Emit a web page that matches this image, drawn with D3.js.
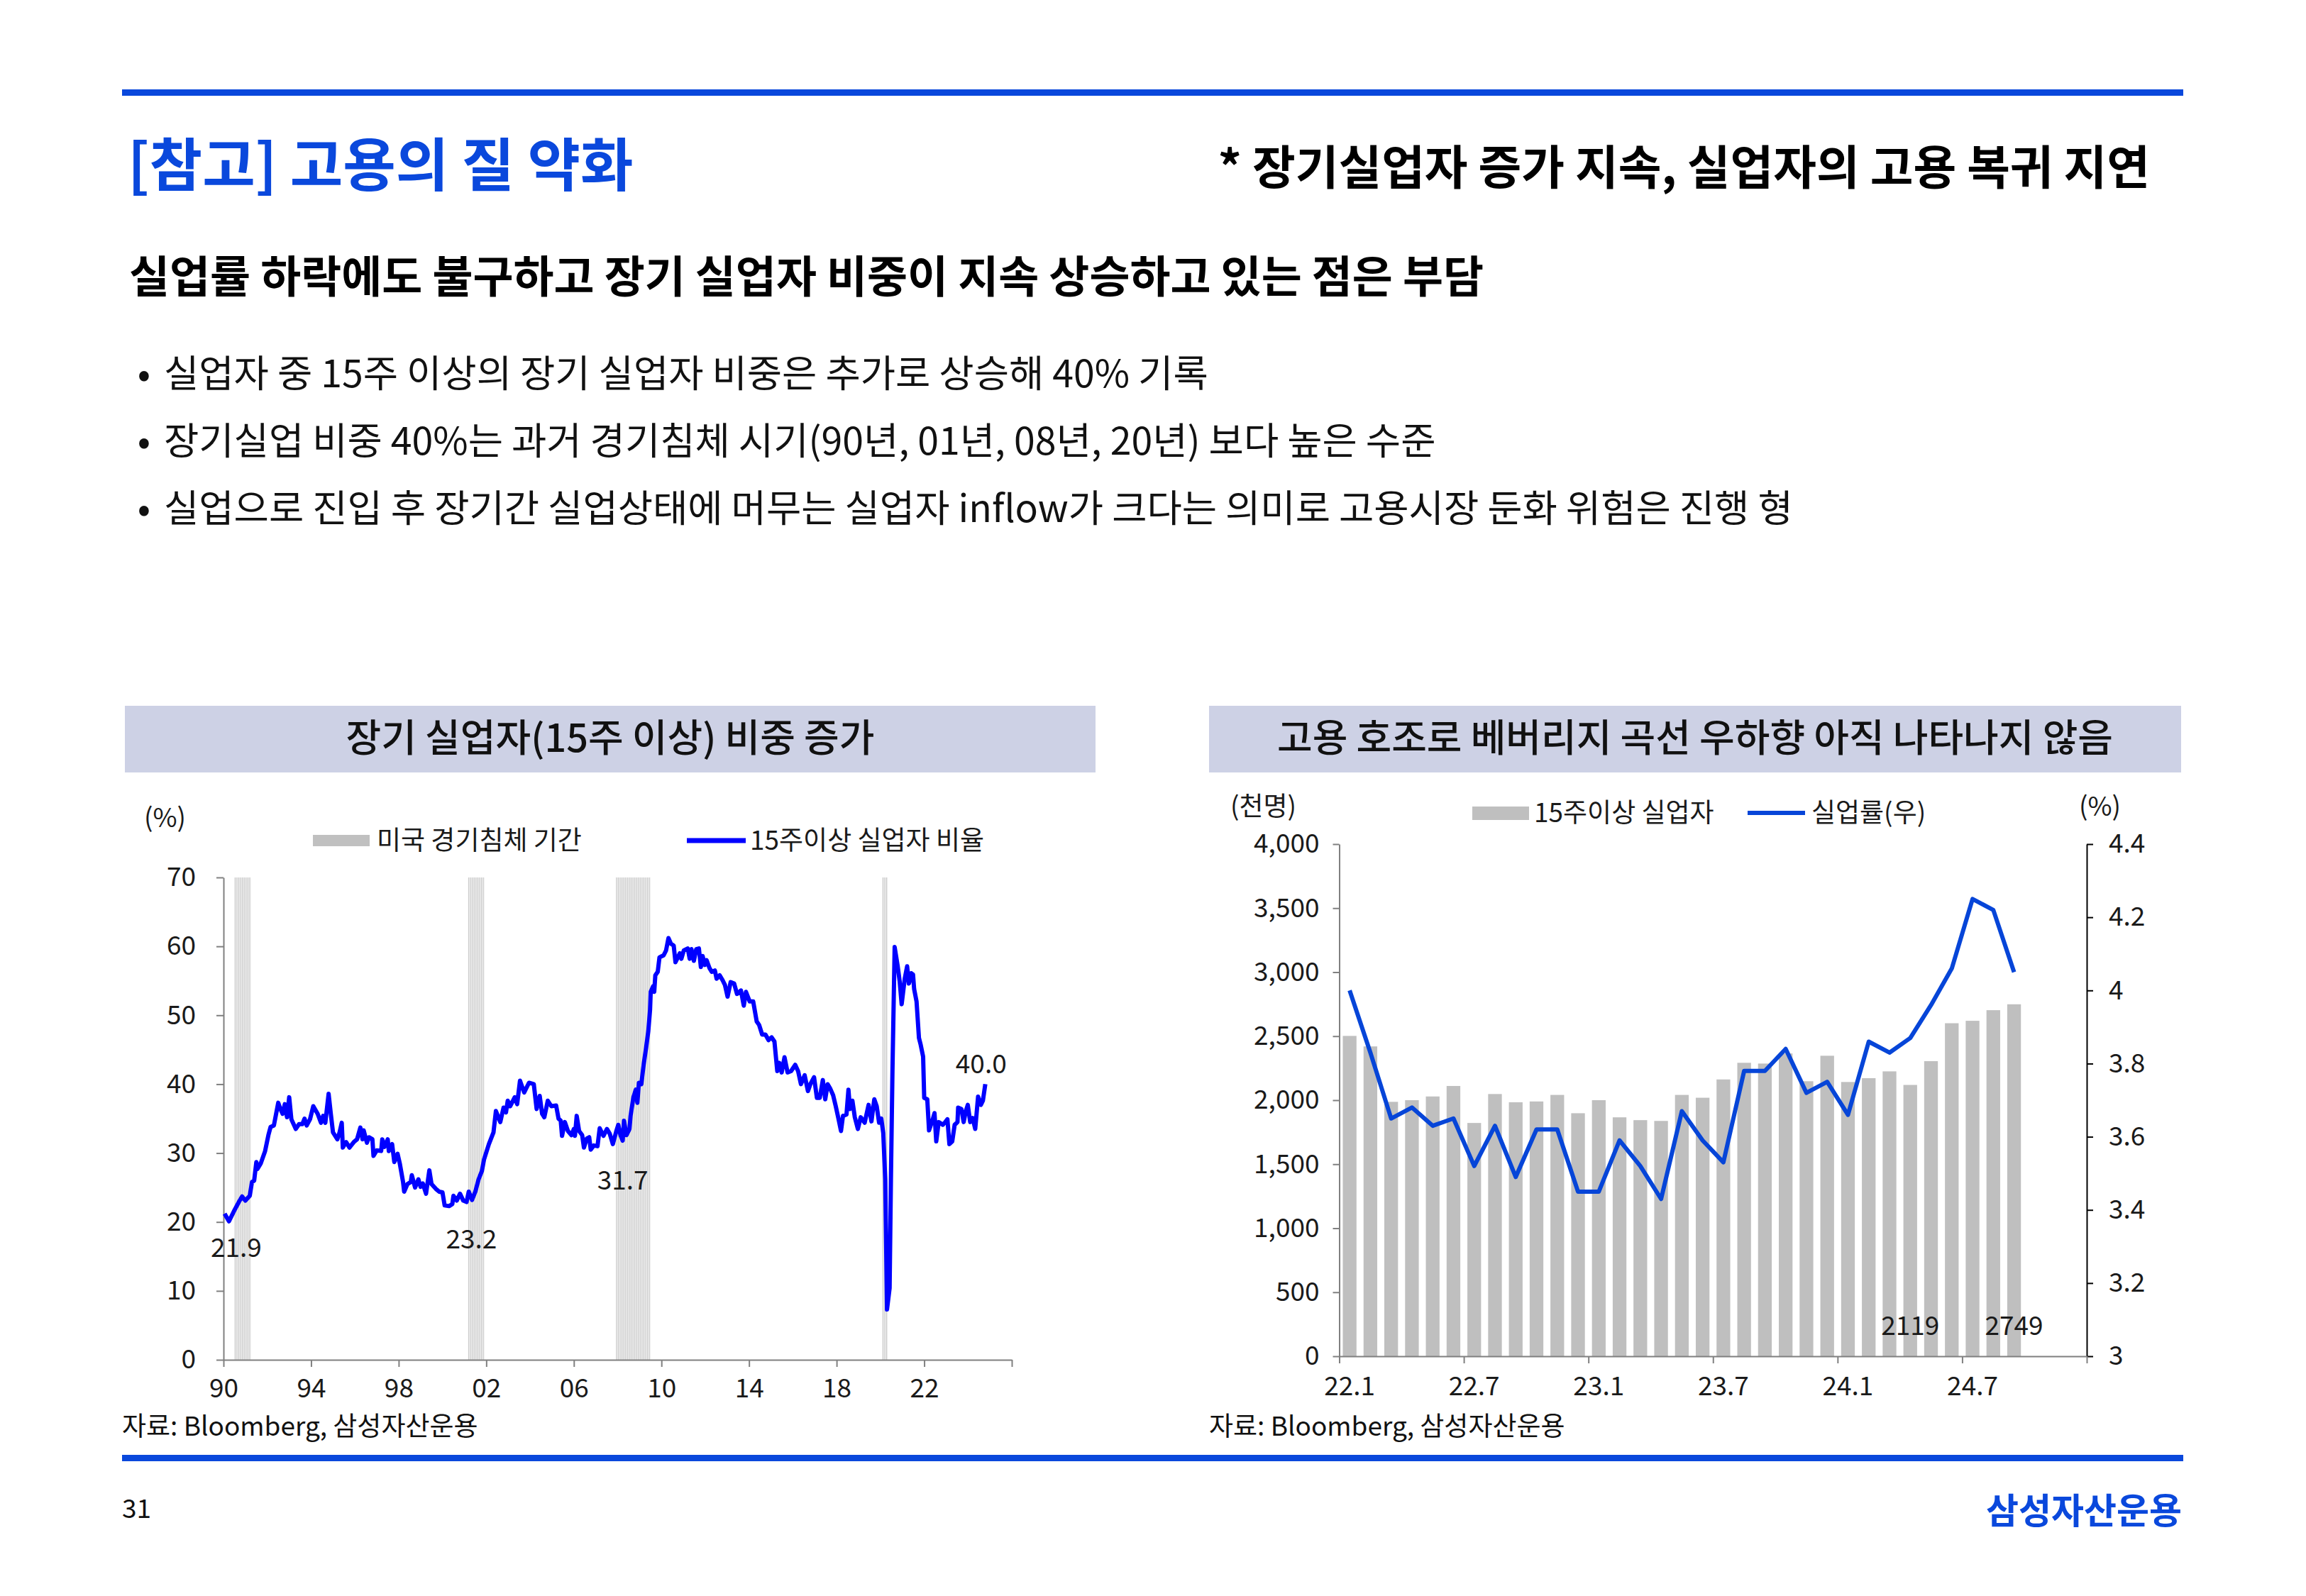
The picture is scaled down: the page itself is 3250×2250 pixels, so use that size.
<!DOCTYPE html>
<html>
<head>
<meta charset="utf-8">
<script src="https://cdn.jsdelivr.net/npm/d3@7"></script>
<style>
  body { margin: 0; background: #fff; }
  svg text { font-family: "Noto Sans CJK KR", "Noto Sans", sans-serif; }
</style>
</head>
<body>
<svg id="page" width="3250" height="2250"></svg>
<script>
// ---- chart 1: share of unemployed 15+ weeks (%)
const shareDates = [
  1990.05, 1990.25, 1990.5, 1990.7, 1990.85, 1991.0, 1991.2, 1991.3, 1991.4, 1991.5,
  1991.55, 1991.7, 1991.9, 1992.05, 1992.15, 1992.3, 1992.5, 1992.6, 1992.7, 1992.8,
  1992.9, 1993.0, 1993.1, 1993.3, 1993.45, 1993.6, 1993.7, 1993.8, 1993.95, 1994.1,
  1994.3, 1994.45, 1994.55, 1994.65, 1994.8, 1994.9, 1995.0, 1995.2, 1995.3, 1995.4,
  1995.45, 1995.6, 1995.75, 1995.95, 1996.1, 1996.25, 1996.35, 1996.4, 1996.55, 1996.65,
  1996.8, 1996.85, 1997.0, 1997.2, 1997.25, 1997.35, 1997.5, 1997.55, 1997.7, 1997.8,
  1997.95, 1998.05, 1998.2, 1998.25, 1998.4, 1998.55, 1998.6, 1998.75, 1998.9, 1999.0,
  1999.1, 1999.25, 1999.4, 1999.5, 1999.7, 1999.85, 2000.0, 2000.1, 2000.3, 2000.45,
  2000.5, 2000.65, 2000.8, 2000.95, 2001.1, 2001.2, 2001.35, 2001.5, 2001.65, 2001.8,
  2001.9, 2002.12, 2002.33, 2002.44, 2002.64, 2002.79, 2002.9, 2002.98, 2003.09, 2003.3,
  2003.41, 2003.54, 2003.73, 2003.95, 2004.17, 2004.3, 2004.44, 2004.55, 2004.65, 2004.81,
  2004.97, 2005.19, 2005.3, 2005.4, 2005.46, 2005.59, 2005.73, 2005.89, 2006.0, 2006.05,
  2006.13, 2006.24, 2006.38, 2006.46, 2006.59, 2006.7, 2006.77, 2006.91, 2007.08, 2007.18,
  2007.35, 2007.51, 2007.64, 2007.78, 2007.94, 2008.03, 2008.13, 2008.23, 2008.29, 2008.4,
  2008.54, 2008.59, 2008.72, 2008.83, 2008.9, 2008.97, 2009.08, 2009.19, 2009.3, 2009.4,
  2009.48, 2009.51, 2009.62, 2009.67, 2009.72, 2009.83, 2009.91, 2010.1, 2010.21, 2010.32,
  2010.43, 2010.56, 2010.64, 2010.75, 2010.84, 2010.91, 2011.02, 2011.2, 2011.29, 2011.37,
  2011.48, 2011.59, 2011.71, 2011.8, 2011.88, 2011.98, 2012.06, 2012.2, 2012.3, 2012.44,
  2012.52, 2012.66, 2012.79, 2012.9, 2013.02, 2013.16, 2013.32, 2013.45, 2013.63, 2013.76,
  2013.86, 2014.03, 2014.19, 2014.35, 2014.46, 2014.6, 2014.75, 2014.89, 2015.03, 2015.16,
  2015.29, 2015.38, 2015.49, 2015.62, 2015.76, 2015.92, 2016.11, 2016.24, 2016.37, 2016.54,
  2016.69, 2016.8, 2016.97, 2017.1, 2017.23, 2017.37, 2017.48, 2017.59, 2017.7, 2017.84,
  2017.96, 2018.07, 2018.2, 2018.29, 2018.45, 2018.54, 2018.61, 2018.72, 2018.83, 2018.97,
  2019.1, 2019.28, 2019.46, 2019.59, 2019.72, 2019.83, 2019.94, 2020.04, 2020.13, 2020.22,
  2020.3, 2020.42, 2020.48, 2020.55, 2020.65, 2020.79, 2020.88, 2020.97, 2021.11, 2021.22,
  2021.3, 2021.41, 2021.49, 2021.54, 2021.65, 2021.76, 2021.84, 2021.95, 2022.0, 2022.14,
  2022.22, 2022.39, 2022.47, 2022.55, 2022.66, 2022.76, 2022.85, 2022.96, 2023.06, 2023.15,
  2023.28, 2023.39, 2023.52, 2023.55, 2023.7, 2023.8, 2023.9, 2023.99, 2024.1, 2024.21,
  2024.33, 2024.46, 2024.59, 2024.68, 2024.79
];
const shareValues = [
  21.2, 20.1, 21.7, 22.9, 23.7, 23.1, 23.8, 25.8, 26.0, 28.7,
  27.7, 28.5, 30.3, 32.6, 33.8, 34.0, 37.3, 36.4, 35.7, 37.1,
  35.2, 38.1, 34.9, 33.5, 34.2, 34.2, 35.0, 34.0, 34.9, 36.8,
  35.7, 34.4, 35.4, 34.4, 38.6, 35.7, 33.0, 32.0, 33.0, 34.4,
  30.8, 31.6, 30.8, 31.6, 32.0, 33.7, 32.0, 33.3, 31.5, 32.3,
  32.0, 29.6, 30.4, 30.3, 32.0, 30.9, 32.0, 30.3, 31.3, 28.7,
  29.9, 28.5, 25.8, 24.4, 25.5, 25.8, 26.8, 25.0, 26.2, 25.1,
  25.6, 24.1, 27.5, 25.5, 24.8, 24.4, 24.3, 22.4, 22.3, 22.6,
  23.8, 23.1, 24.1, 23.1, 22.9, 24.4, 23.2, 24.4, 26.2, 27.4,
  29.1, 31.3, 33.0, 36.1, 34.5, 36.6, 35.9, 37.6, 36.8, 38.1,
  37.1, 40.5, 38.8, 40.2, 40.0, 36.4, 38.3, 35.7, 35.2, 37.6,
  36.8, 36.9, 35.0, 34.7, 32.5, 34.5, 33.2, 32.6, 33.5, 32.5,
  35.4, 33.2, 32.6, 30.8, 32.1, 32.3, 30.5, 31.1, 31.0, 33.6,
  32.5, 33.5, 32.8, 31.3, 33.2, 34.1, 32.6, 31.8, 34.7, 32.6,
  33.5, 35.4, 38.1, 39.2, 37.3, 40.2, 40.0, 42.9, 45.3, 47.7,
  50.8, 53.4, 54.2, 53.4, 55.8, 56.3, 58.4, 58.7, 59.4, 61.2,
  60.4, 60.1, 57.7, 58.4, 59.0, 58.2, 59.4, 59.7, 58.2, 59.6,
  57.9, 59.6, 59.7, 57.0, 58.6, 57.3, 58.0, 56.8, 56.3, 56.5,
  55.3, 55.8, 55.1, 54.4, 52.7, 54.8, 54.6, 53.1, 53.6, 51.4,
  53.4, 52.0, 52.0, 49.1, 48.6, 47.2, 47.2, 46.4, 46.8, 46.2,
  41.9, 43.1, 41.7, 43.9, 41.7, 41.9, 42.8, 41.9, 40.0, 41.3,
  39.0, 40.0, 41.0, 38.0, 38.0, 40.6, 37.8, 40.0, 39.4, 38.4,
  36.8, 35.2, 33.2, 35.4, 35.6, 39.2, 36.4, 37.6, 35.2, 33.5,
  35.2, 34.4, 37.0, 34.6, 37.8, 36.8, 34.4, 35.0, 32.9, 26.2,
  7.3, 10.4, 26.2, 41.9, 59.9, 57.1, 54.9, 51.6, 55.3, 57.1,
  54.6, 56.1, 55.9, 53.8, 52.0, 46.7, 45.7, 44.0, 38.0, 37.8,
  33.3, 34.9, 35.8, 31.7, 34.5, 34.3, 34.1, 34.5, 34.9, 31.3,
  31.7, 34.1, 34.5, 36.6, 36.4, 34.5, 36.1, 37.0, 34.5, 35.1,
  33.5, 38.2, 37.0, 37.6, 40.0
];
const recessionStart = ["1990-07", "2001-03", "2007-12", "2020-02"];
const recessionEnd = ["1991-03", "2001-11", "2009-06", "2020-04"];
const shareLabelDates = [1990.58, 2001.32, 2008.23, 2024.6];
const shareLabelValues = [21.9, 23.2, 31.7, 40.0];
const shareLabelAbove = [false, false, false, true];
const shareTicksY = [0, 10, 20, 30, 40, 50, 60, 70];
const shareTicksX = [1990, 1994, 1998, 2002, 2006, 2010, 2014, 2018, 2022, 2026];

// ---- chart 2: unemployed 15+ weeks (thousand) and unemployment rate (%)
const monthSlots = [
  "2022-01", "2022-02", "2022-03", "2022-04", "2022-05", "2022-06",
  "2022-07", "2022-08", "2022-09", "2022-10", "2022-11", "2022-12",
  "2023-01", "2023-02", "2023-03", "2023-04", "2023-05", "2023-06",
  "2023-07", "2023-08", "2023-09", "2023-10", "2023-11", "2023-12",
  "2024-01", "2024-02", "2024-03", "2024-04", "2024-05", "2024-06",
  "2024-07", "2024-08", "2024-09", "2024-10", "2024-11", "2024-12"
];
const longTermUnemployed = [
  2502, 2420, 1987, 2000, 2029, 2111, 1822, 2048, 1984, 1990, 2041,
  1898, 2000, 1866, 1844, 1838, 2041, 2019, 2162, 2292, 2286, 2365,
  2148, 2347, 2142, 2172, 2225, 2119, 2305, 2601, 2620, 2703, 2749
];
const unemploymentRate = [
  4.00, 3.83, 3.65, 3.68, 3.63, 3.65, 3.52, 3.63, 3.49, 3.62, 3.62,
  3.45, 3.45, 3.59, 3.52, 3.43, 3.67, 3.59, 3.53, 3.78, 3.78, 3.84,
  3.72, 3.75, 3.66, 3.86, 3.83, 3.87, 3.96, 4.06, 4.25, 4.22, 4.05
];
const barLabelMonths = ["2024-04", "2024-09"];
const barLabelTexts = ["2119", "2749"];
const slotTickMonths = ["2022-01", "2022-07", "2023-01", "2023-07", "2024-01", "2024-07"];
const leftTicks = [0, 500, 1000, 1500, 2000, 2500, 3000, 3500, 4000];
const rightTicks = [3, 3.2, 3.4, 3.6, 3.8, 4, 4.2, 4.4];

const blue = "#0a48dc";
const svg = d3.select("#page");

function addText(x, y, str, size, opts) {
  opts = opts || {};
  return svg.append("text")
    .attr("x", x).attr("y", y)
    .attr("font-size", size)
    .attr("font-weight", opts.weight || 400)
    .attr("fill", opts.fill || "#111")
    .attr("text-anchor", opts.anchor || "start")
    .text(str);
}

function styleAxis(g, color) {
  g.attr("font-size", 37);
  g.select("path.domain").attr("stroke", color).attr("stroke-width", 2);
  g.selectAll(".tick line").attr("stroke", color).attr("stroke-width", 2);
  g.selectAll(".tick text").attr("fill", "#1a1a1a");
}

// ---- page frame
svg.append("rect").attr("x", 172).attr("y", 126).attr("width", 2905).attr("height", 9).attr("fill", blue);
svg.append("rect").attr("x", 172).attr("y", 2051).attr("width", 2905).attr("height", 9).attr("fill", blue);

addText(180, 262, "[참고] 고용의 질 약화", 81, {weight: 700, fill: blue});
addText(3030, 260, "* 장기실업자 증가 지속, 실업자의 고용 복귀 지연", 66, {weight: 700, fill: "#000", anchor: "end"});
addText(182, 413, "실업률 하락에도 불구하고 장기 실업자 비중이 지속 상승하고 있는 점은 부담", 62, {weight: 700, fill: "#000"});

const bullets = [
  "실업자 중 15주 이상의 장기 실업자 비중은 추가로 상승해 40% 기록",
  "장기실업 비중 40%는 과거 경기침체 시기(90년, 01년, 08년, 20년) 보다 높은 수준",
  "실업으로 진입 후 장기간 실업상태에 머무는 실업자 inflow가 크다는 의미로 고용시장 둔화 위험은 진행 형"
];
bullets.forEach((b, i) => {
  addText(203, 546 + i * 95, "•", 54, {anchor: "middle"});
  addText(231, 546 + i * 95, b, 53.6);
});

// chart headers
svg.append("rect").attr("x", 176).attr("y", 995).attr("width", 1368).attr("height", 94).attr("fill", "#cdd1e5");
svg.append("rect").attr("x", 1704).attr("y", 995).attr("width", 1370).attr("height", 94).attr("fill", "#cdd1e5");
addText(860, 1060, "장기 실업자(15주 이상) 비중 증가", 54, {weight: 500, anchor: "middle"});
addText(2389, 1060, "고용 호조로 베버리지 곡선 우하향 아직 나타나지 않음", 54, {weight: 500, anchor: "middle"});

// ---- chart 1
const x1 = d3.scaleLinear().domain([1990, 2026]).range([315, 1426]);
const y1 = d3.scaleLinear().domain([0, 70]).range([1917, 1237]);

// recession months as thin columns
const recG = svg.append("g");
recessionStart.forEach((s, i) => {
  const a = s.split("-").map(Number), b = recessionEnd[i].split("-").map(Number);
  const from = a[0] + (a[1] - 1) / 12, to = b[0] + b[1] / 12;
  recG.append("rect")
    .attr("x", x1(from)).attr("y", y1(70))
    .attr("width", x1(to) - x1(from)).attr("height", y1(0) - y1(70))
    .attr("fill", "#eeeeee");
  d3.range(Math.round((to - from) * 12)).forEach(k => {
    recG.append("rect")
      .attr("x", x1(from + k / 12) + 0.4).attr("y", y1(70))
      .attr("width", 1.1).attr("height", y1(0) - y1(70))
      .attr("fill", "#cccccc");
  });
});

const ax1 = svg.append("g").attr("transform", "translate(315,0)")
  .call(d3.axisLeft(y1).tickValues(shareTicksY).tickSize(10).tickSizeOuter(0).tickPadding(29));
styleAxis(ax1, "#808080");
const bx1 = svg.append("g").attr("transform", "translate(0,1917)")
  .call(d3.axisBottom(x1).tickValues(shareTicksX).tickSize(10).tickSizeOuter(0).tickPadding(17)
    .tickFormat(d => d === 2026 ? "" : String(d % 100).padStart(2, "0")));
styleAxis(bx1, "#808080");

const shareLine = d3.line()
  .x((d, i) => x1(shareDates[i]))
  .y(d => y1(d));
svg.append("path").datum(shareValues)
  .attr("d", shareLine)
  .attr("fill", "none").attr("stroke", "#0000ff")
  .attr("stroke-width", 6).attr("stroke-linejoin", "round");

shareLabelValues.forEach((v, i) => {
  const yy = y1(v) + (shareLabelAbove[i] ? -28 : 55) + 13;
  addText(x1(shareLabelDates[i]), yy, v.toFixed(1), 37, {anchor: "middle", fill: "#1a1a1a"});
});

addText(203, 1166, "(%)", 37, {fill: "#1a1a1a"});
svg.append("rect").attr("x", 441).attr("y", 1177).attr("width", 80).attr("height", 16).attr("fill", "#c0c0c0");
addText(531, 1198, "미국 경기침체 기간", 37, {fill: "#1a1a1a"});
svg.append("line").attr("x1", 968).attr("x2", 1051).attr("y1", 1185).attr("y2", 1185)
  .attr("stroke", "#0000ff").attr("stroke-width", 7);
addText(1057, 1198, "15주이상 실업자 비율", 37, {fill: "#1a1a1a"});
addText(172, 2024, "자료: Bloomberg, 삼성자산운용", 37, {fill: "#111"});

// ---- chart 2
const x2 = d3.scaleBand().domain(monthSlots).range([1887.5, 2941]).paddingInner(0.34).paddingOuter(0.17);
const yL = d3.scaleLinear().domain([0, 4000]).range([1912, 1190]);
const yR = d3.scaleLinear().domain([3, 4.4]).range([1912, 1190]);
const slotEdge = d3.scaleLinear().domain([0, monthSlots.length]).range([1887.5, 2941]);

svg.append("g").selectAll("rect")
  .data(longTermUnemployed)
  .enter().append("rect")
    .attr("x", (d, i) => x2(monthSlots[i]))
    .attr("y", d => yL(d))
    .attr("width", x2.bandwidth())
    .attr("height", d => yL(0) - yL(d))
    .attr("fill", "#bfbfbf");

barLabelMonths.forEach((m, i) => {
  addText(x2(m) + x2.bandwidth() / 2, yL(0) - 30, barLabelTexts[i], 37, {anchor: "middle", fill: "#1a1a1a"});
});

const ax2 = svg.append("g").attr("transform", "translate(1887.5,0)")
  .call(d3.axisLeft(yL).tickValues(leftTicks).tickSize(9).tickSizeOuter(0).tickPadding(19).tickFormat(d3.format(",")));
styleAxis(ax2, "#808080");
const ar2 = svg.append("g").attr("transform", "translate(2941,0)")
  .call(d3.axisRight(yR).tickValues(rightTicks).tickSize(9).tickSizeOuter(0).tickPadding(22).tickFormat(d3.format("~g")));
styleAxis(ar2, "#000");
const bt2 = svg.append("g").attr("transform", "translate(0,1912)")
  .call(d3.axisBottom(slotEdge).tickValues(d3.range(0, monthSlots.length + 1, 6)).tickSize(10).tickSizeOuter(0).tickFormat(""));
styleAxis(bt2, "#808080");
const bl2 = svg.append("g").attr("transform", "translate(0,1912)")
  .call(d3.axisBottom(x2).tickValues(slotTickMonths).tickSize(0).tickPadding(29)
    .tickFormat(m => m.slice(2, 4) + "." + (+m.slice(5))));
bl2.select("path.domain").remove();
styleAxis(bl2, "#808080");

const rateLine = d3.line()
  .x((d, i) => x2(monthSlots[i]) + x2.bandwidth() / 2)
  .y(d => yR(d));
svg.append("path").datum(unemploymentRate)
  .attr("d", rateLine)
  .attr("fill", "none").attr("stroke", "#0645d8")
  .attr("stroke-width", 6).attr("stroke-linejoin", "round");

addText(1734, 1150, "(천명)", 37, {fill: "#1a1a1a"});
addText(2930, 1150, "(%)", 37, {fill: "#1a1a1a"});
svg.append("rect").attr("x", 2075).attr("y", 1137).attr("width", 80).attr("height", 19).attr("fill", "#bfbfbf");
addText(2162, 1159, "15주이상 실업자", 37, {fill: "#1a1a1a"});
svg.append("line").attr("x1", 2463).attr("x2", 2544).attr("y1", 1146).attr("y2", 1146)
  .attr("stroke", "#0645d8").attr("stroke-width", 6);
addText(2553, 1159, "실업률(우)", 37, {fill: "#1a1a1a"});
addText(1704, 2024, "자료: Bloomberg, 삼성자산운용", 37, {fill: "#111"});

// footer
addText(172, 2140, "31", 37, {fill: "#111"});
addText(3075, 2148, "삼성자산운용", 50, {weight: 700, fill: blue, anchor: "end"});
</script>
</body>
</html>
